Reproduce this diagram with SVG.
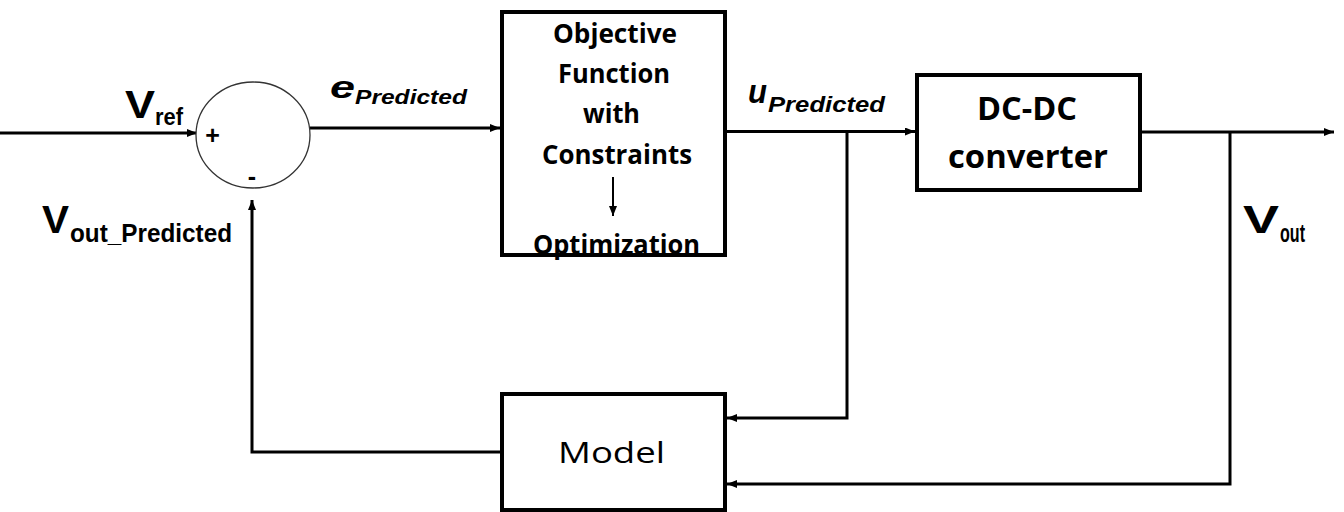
<svg xmlns="http://www.w3.org/2000/svg" width="1344" height="512" viewBox="0 0 1344 512">
<defs>
<style>
.ln{stroke:#000;stroke-width:3;fill:none}
.box{fill:#fff;stroke:#000;stroke-width:4}
.ar{font-family:"Liberation Sans",Arial,sans-serif;font-weight:bold;fill:#000}
.it{font-style:italic}
.cb{font-family:"Open Sans","Noto Sans",sans-serif;font-weight:bold;fill:#000}
.cr{font-family:"Open Sans","Noto Sans",sans-serif;font-weight:normal;fill:#000}
</style>
<marker id="ah" markerUnits="userSpaceOnUse" markerWidth="10" markerHeight="8" refX="10" refY="4" orient="auto">
<path d="M0,0 L10,4 L0,8 z" fill="#000"/>
</marker>
</defs>
<rect width="1344" height="512" fill="#fff"/>
<g id="connectors">
<path class="ln" d="M0,133 H197" marker-end="url(#ah)"/>
<path class="ln" d="M310,128 H500" marker-end="url(#ah)"/>
<path class="ln" d="M725,131.5 H915" marker-end="url(#ah)"/>
<path class="ln" d="M1140,132 H1334" marker-end="url(#ah)"/>
<path class="ln" d="M847,131.5 V418 H727" marker-end="url(#ah)"/>
<path class="ln" d="M1230,132 V484 H727" marker-end="url(#ah)"/>
<path class="ln" d="M502,452 H252 V200" marker-end="url(#ah)"/>
</g>
<g id="sum">
<ellipse cx="253" cy="135" rx="57" ry="53" fill="#fff" stroke="#333" stroke-width="1.3"/>
<text class="ar" x="212.5" y="144" font-size="25" text-anchor="middle">+</text>
<text class="ar" x="252" y="185" font-size="25" text-anchor="middle">-</text>
</g>
<g id="objective">
<rect class="box" x="502" y="12" width="223" height="243"/>
<text class="cb" font-size="26" x="553" y="43" textLength="124" lengthAdjust="spacingAndGlyphs">Objective</text>
<text class="cb" font-size="26" x="558" y="83" textLength="112" lengthAdjust="spacingAndGlyphs">Function</text>
<text class="cb" font-size="26" x="583" y="123" textLength="57" lengthAdjust="spacingAndGlyphs">with</text>
<text class="cb" font-size="26" x="542" y="164" textLength="150" lengthAdjust="spacingAndGlyphs">Constraints</text>
<path class="ln" d="M613,177 V216" marker-end="url(#ah)" style="stroke-width:2"/>
<text class="cb" font-size="26" x="533" y="254" textLength="167" lengthAdjust="spacingAndGlyphs">Optimization</text>
</g>
<g id="dcdc">
<rect class="box" x="917" y="75" width="223" height="115"/>
<text class="cb" font-size="33" x="977" y="120" textLength="100" lengthAdjust="spacingAndGlyphs">DC-DC</text>
<text class="cb" font-size="33" x="948" y="168" textLength="160" lengthAdjust="spacingAndGlyphs">converter</text>
</g>
<g id="model">
<rect class="box" x="502" y="394" width="223" height="116"/>
<text class="cr" font-size="30" x="558" y="463" textLength="107" lengthAdjust="spacingAndGlyphs">Model</text>
</g>
<g id="labels">
<text class="ar" font-size="39" x="125" y="118" textLength="30" lengthAdjust="spacingAndGlyphs">V</text>
<text class="ar" font-size="24" x="155" y="125" textLength="28" lengthAdjust="spacingAndGlyphs">ref</text>
<text class="ar" font-size="39" x="42" y="233" textLength="27" lengthAdjust="spacingAndGlyphs">V</text>
<text class="ar" font-size="26" x="70" y="242" textLength="162" lengthAdjust="spacingAndGlyphs">out_Predicted</text>
<text class="ar" font-size="39" x="1243" y="233" textLength="36" lengthAdjust="spacingAndGlyphs">V</text>
<text class="ar" font-size="26" x="1280" y="242" textLength="25" lengthAdjust="spacingAndGlyphs">out</text>
<text class="ar it" font-size="31" x="330" y="98" textLength="25" lengthAdjust="spacingAndGlyphs">e</text>
<text class="ar it" font-size="20" x="355" y="104" textLength="112" lengthAdjust="spacingAndGlyphs">Predicted</text>
<text class="ar it" font-size="34" x="748" y="103" textLength="19" lengthAdjust="spacingAndGlyphs">u</text>
<text class="ar it" font-size="22" x="768" y="112" textLength="117" lengthAdjust="spacingAndGlyphs">Predicted</text>
</g>
</svg>
